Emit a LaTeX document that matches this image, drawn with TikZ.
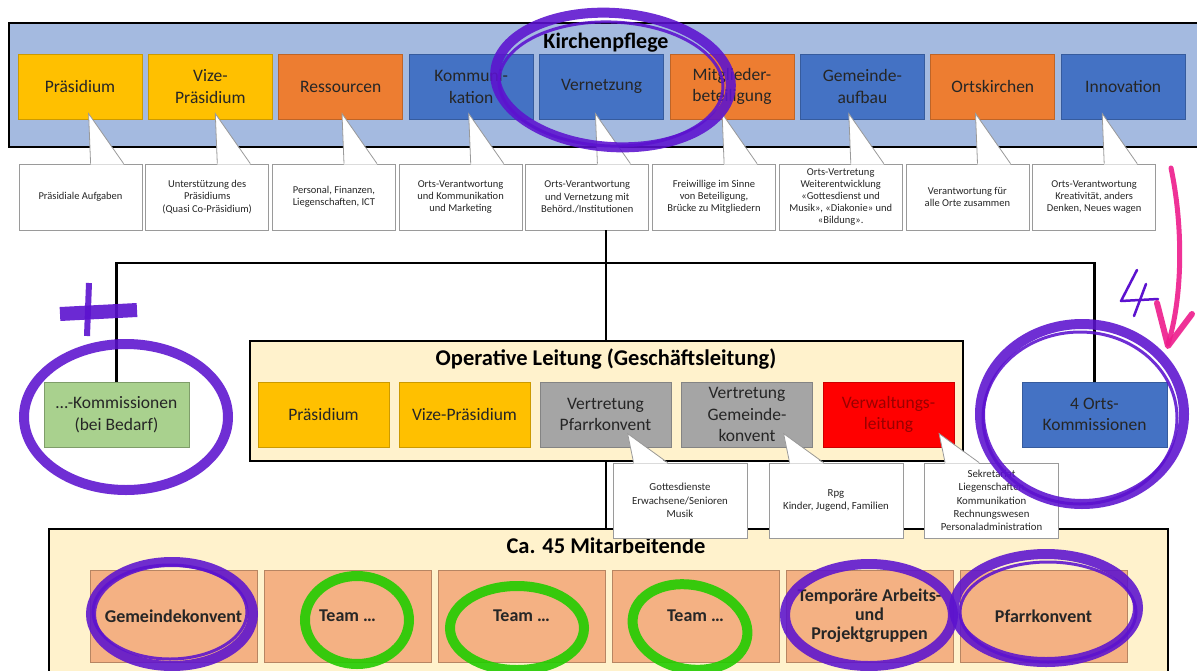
\documentclass[tikz,border=0pt]{standalone}
\usepackage{fontspec}
\setmainfont{Carlito}
\usetikzlibrary{calc}
\definecolor{bandc}{HTML}{A4BAE0}
\definecolor{yel}{HTML}{FFC000}
\definecolor{ora}{HTML}{ED7D31}
\definecolor{blu}{HTML}{4472C4}
\definecolor{grn}{HTML}{A9D18E}
\definecolor{gry}{HTML}{A5A5A5}
\definecolor{rdd}{HTML}{FF0000}
\definecolor{lyel}{HTML}{FFF2CC}
\definecolor{salm}{HTML}{F4B183}
\definecolor{txt}{HTML}{262626}
\definecolor{cgray}{HTML}{9A9A9A}
\definecolor{purp}{HTML}{5C12CF}
\definecolor{hgreen}{HTML}{22CC00}
\definecolor{hpink}{HTML}{EE1C8C}
\begin{document}
\begin{tikzpicture}[x=1pt,y=-1pt,
  boxbase/.style={rectangle, inner sep=0pt, align=center, text=txt, line width=0.8pt},
  topbox/.style={boxbase, minimum width=124pt, minimum height=65pt, font=\fontsize{17.5}{21.5}\selectfont},
  midbox/.style={boxbase, minimum width=131pt, minimum height=65pt, font=\fontsize{17.5}{21.5}\selectfont},
  sidebox/.style={boxbase, minimum width=145pt, minimum height=65pt, font=\fontsize{17.5}{21.5}\selectfont},
  lowbox/.style={boxbase, fill=salm, draw=salm!75!black, minimum width=167pt, minimum height=92pt, font=\bfseries\fontsize{18}{19}\selectfont},
  callbox/.style={rectangle, inner sep=0pt, align=center, text=txt, fill=white, draw=cgray, line width=0.8pt, minimum width=123pt, minimum height=66pt, font=\fontsize{10.5}{12.2}\selectfont},
  callbox2/.style={callbox, minimum width=134pt, minimum height=75pt, font=\fontsize{10.8}{13.3}\selectfont},
  frame/.style={rectangle, inner sep=0pt, draw=black, line width=2.3pt},
  title/.style={text=black, font=\bfseries\fontsize{22.5}{26}\selectfont, inner sep=0pt},
  conn/.style={draw=black, line width=2.2pt},
  anno/.style={draw=purp, line width=10pt, opacity=0.88},
  annothin/.style={draw=purp, line width=3pt, opacity=0.88},
  gano/.style={draw=hgreen, line width=10pt, opacity=0.9}
]
\useasboundingbox (0,0) rectangle (1197,670);
\fill[white] (0,0) rectangle (1197,670);

% ---------- Kirchenpflege band ----------
\node[frame, fill=bandc, anchor=north west, minimum width=1202pt, minimum height=124pt] (kp) at (8,22) {};
\node[title, font=\bfseries\fontsize{22}{26}\selectfont] (kpt) at (606,43) {Kirchenpflege};

\node[topbox, fill=yel, draw=yel!80!black] (t1) at (80,86.5) {Präsidium};
\node[topbox, fill=yel, draw=yel!80!black] (t2) at (210.4,86.5) {Vize-\\Präsidium};
\node[topbox, fill=ora, draw=ora!80!black] (t3) at (340.8,86.5) {Ressourcen};
\node[topbox, fill=blu, draw=blu!80!black] (t4) at (471.2,86.5) {Kommuni-\\kation};
\node[topbox, fill=blu, draw=blu!80!black] (t5) at (601.6,86.5) {Vernetzung};
\node[topbox, fill=ora, draw=ora!80!black] (t6) at (732,86.5) {Mitglieder-\\beteiligung};
\node[topbox, fill=blu, draw=blu!80!black] (t7) at (862.4,86.5) {Gemeinde-\\aufbau};
\node[topbox, fill=ora, draw=ora!80!black] (t8) at (992.8,86.5) {Ortskirchen};
\node[topbox, fill=blu, draw=blu!80!black] (t9) at (1123.2,86.5) {Innovation};

% ---------- connectors ----------
\coordinate (hub) at (606,263);

% ---------- callouts top ----------
\node[callbox] (c1) at (80.5,197) {Präsidiale Aufgaben};
\node[callbox] (c2) at (207.2,197) {Unterstützung des\\Präsidiums\\(Quasi Co-Präsidium)};
\node[callbox] (c3) at (333.9,197) {Personal, Finanzen,\\Liegenschaften, ICT};
\node[callbox] (c4) at (460.6,197) {Orts-Verantwortung\\und Kommunikation\\und Marketing};
\node[callbox] (c5) at (587.3,197) {Orts-Verantwortung\\und Vernetzung mit\\Behörd./Institutionen};
\node[callbox] (c6) at (714,197) {Freiwillige im Sinne\\von Beteiligung,\\Brücke zu Mitgliedern};
\node[callbox] (c7) at (840.7,197) {Orts-Vertretung\\Weiterentwicklung\\«Gottesdienst und\\Musik», «Diakonie» und\\«Bildung».};
\node[callbox] (c8) at (967.4,197) {Verantwortung für\\alle Orte zusammen};
\node[callbox] (c9) at (1094.1,197) {Orts-Verantwortung\\Kreativität, anders\\Denken, Neues wagen};
\foreach \i in {1,...,9}{
  \fill[white] ([xshift=70pt,yshift=50pt]c\i.north west) -- ([xshift=72pt,yshift=-1pt]c\i.north west) -- ([xshift=105pt,yshift=-1pt]c\i.north west) -- cycle;
  \draw[cgray, line width=0.8pt] ([xshift=72pt]c\i.north west) -- ([xshift=70pt,yshift=50pt]c\i.north west) -- ([xshift=105pt]c\i.north west);
}

% ---------- middle ----------
\node[sidebox, fill=grn, draw=grn!75!black] (kom) at (116.5,414.5) {\dots-Kommissionen\\(bei Bedarf)};
\node[sidebox, fill=blu, draw=blu!80!black] (orts) at (1094.5,414.5) {4 Orts-\\Kommissionen};

\node[frame, fill=lyel, anchor=north west, minimum width=713pt, minimum height=120pt] (ol) at (249,340) {};
\node[title] (olt) at (606,359) {Operative Leitung (Geschäftsleitung)};
\node[midbox, fill=yel, draw=yel!80!black] (o1) at (323.5,414.5) {Präsidium};
\node[midbox, fill=yel, draw=yel!80!black] (o2) at (464.5,414.5) {Vize-Präsidium};
\node[midbox, fill=gry, draw=gry!80!black] (o3) at (605.5,414.5) {Vertretung\\Pfarrkonvent};
\node[midbox, fill=gry, draw=gry!80!black] (o4) at (747,414.5) {Vertretung\\Gemeinde-\\konvent};
\node[midbox, fill=rdd, draw=rdd!80!black, text=red!60!black] (o5) at (888.5,414.5) {Verwaltungs-\\leitung};

% ---------- bottom ----------
\node[frame, fill=lyel, anchor=north west, minimum width=1119pt, minimum height=143pt] (ma) at (48,528) {};
\node[title] (mat) at (606,546) {Ca. 45 Mitarbeitende};
\node[lowbox] (b1) at (173.5,616) {Gemeindekonvent};
\node[lowbox] (b2) at (347.5,616) {Team \dots};
\node[lowbox] (b3) at (521.5,616) {Team \dots};
\node[lowbox] (b4) at (695.5,616) {Team \dots};
\node[lowbox] (b5) at (869.5,616) {Temporäre Arbeits-\\und\\Projektgruppen};
\node[lowbox] (b6) at (1043.5,616) {Pfarrkonvent};

% connectors
\draw[conn] (hub |- c5.south) -- (hub);
\draw[conn] (kom.north) |- (hub);
\draw[conn] (hub) -| (orts.north);
\draw[conn] (hub) -- (hub |- ol.north);
\draw[conn] (hub |- ol.south) -- (hub |- ma.north);

% ---------- callouts lower ----------
\node[callbox2] (d1) at (680,500.5) {Gottesdienste\\Erwachsene/Senioren\\Musik};
\node[callbox2] (d2) at (836,500.5) {Rpg\\Kinder, Jugend, Familien};
\node[callbox2] (d3) at (991.5,500.5) {Sekretariat\\Liegenschaften\\Kommunikation\\Rechnungswesen\\Personaladministration};
\foreach \i in {1,2,3}{
  \fill[white] ([xshift=15pt,yshift=29pt]d\i.north west) -- ([xshift=21pt,yshift=-1pt]d\i.north west) -- ([xshift=55pt,yshift=-1pt]d\i.north west) -- cycle;
  \draw[cgray, line width=0.8pt] ([xshift=21pt]d\i.north west) -- ([xshift=15pt,yshift=29pt]d\i.north west) -- ([xshift=55pt]d\i.north west);
}

% ---------- hand-drawn annotations ----------
\draw[anno, rotate around={-4:(613,80)}] (613,80) ellipse [x radius=118, y radius=67];
\draw[annothin, rotate around={-2:(611,84)}] (611,84) ellipse [x radius=112, y radius=62];
\draw[purp, line width=6pt, opacity=0.9] (89,283) -- (87,336);
\draw[purp, line width=14pt, opacity=0.9] (60,314) -- (137,310);
\draw[anno] (126,417) ellipse [x radius=102, y radius=73];
\draw[anno] (1082,414) ellipse [x radius=102, y radius=90];
\draw[annothin] (1080,418) ellipse [x radius=97, y radius=86];
\draw[purp, line width=2.5pt, line cap=round, line join=round] (1137,270) -- (1121,301) -- (1158,299);
\draw[purp, line width=2.5pt, line cap=round] (1146,284) -- (1134,316);
\draw[hpink, line width=5pt, line cap=round, opacity=0.9] (1171,168) .. controls (1184,230) and (1182,300) .. (1168,344);
\draw[hpink, line width=6pt, line cap=round, line join=round, opacity=0.9] (1157,303) -- (1168,346) -- (1192,314);

\draw[anno] (172,614) ellipse [x radius=81, y radius=52];
\draw[annothin] (170,612) ellipse [x radius=77, y radius=47];
\draw[anno] (869,615) ellipse [x radius=84, y radius=51];
\draw[anno] (1046,608) ellipse [x radius=92, y radius=54];
\draw[annothin] (1048,612) ellipse [x radius=88, y radius=50];
\draw[gano] (357,620) ellipse [x radius=52, y radius=44];
\draw[gano] (517,628) ellipse [x radius=67, y radius=42];
\draw[gano, rotate around={-12:(690,627)}] (690,627) ellipse [x radius=58, y radius=42];
\end{tikzpicture}
\end{document}
